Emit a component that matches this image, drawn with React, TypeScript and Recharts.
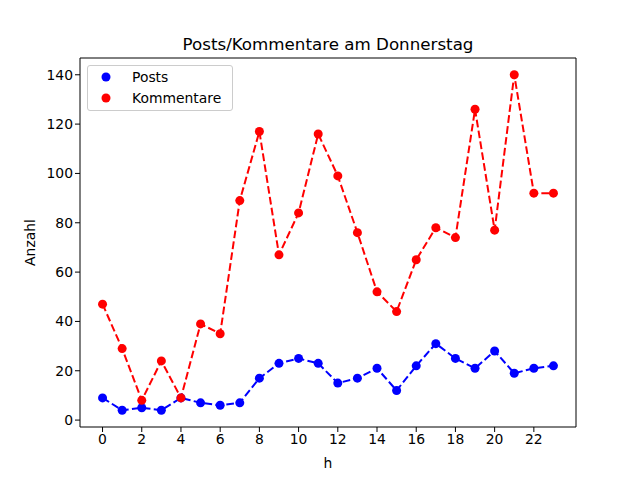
import React from "react";
import {
  LineChart,
  Line,
  XAxis,
  YAxis,
  ReferenceArea,
} from "recharts";

const hours = [0, 1, 2, 3, 4, 5, 6, 7, 8, 9, 10, 11, 12, 13, 14, 15, 16, 17, 18, 19, 20, 21, 22, 23];
const posts = [9, 4, 5, 4, 9, 7, 6, 7, 17, 23, 25, 23, 15, 17, 21, 12, 22, 31, 25, 21, 28, 19, 21, 22];
const kommentare = [47, 29, 8, 24, 9, 39, 35, 89, 117, 67, 84, 116, 99, 76, 52, 44, 65, 78, 74, 126, 77, 140, 92, 92];
const xTicks = [0, 2, 4, 6, 8, 10, 12, 14, 16, 18, 20, 22];
const yTicks = [0, 20, 40, 60, 80, 100, 120, 140];

const data = hours.map((h, i) => ({ h, posts: posts[i], kommentare: kommentare[i] }));

const FONT = "DejaVu Sans, sans-serif";
const X_DOMAIN: [number, number] = [-1.15, 24.15];
const Y_DOMAIN: [number, number] = [-2.8, 146.8];

function LegendBox() {
  const items = [
    { label: "Posts", color: "#0000ff" },
    { label: "Kommentare", color: "#ff0000" },
  ];
  return (
    <div
      style={{
        position: "absolute",
        left: 87,
        top: 65,
        width: 138,
        border: "1px solid #cccccc",
        borderRadius: 3,
        background: "rgba(255,255,255,0.8)",
        padding: "0 0 1px 6px",
        fontFamily: FONT,
        fontSize: 13.9,
        color: "#000",
      }}
    >
      {items.map((it) => (
        <div key={it.label} style={{ display: "flex", alignItems: "center", height: 21.5 }}>
          <svg width={24} height={12} style={{ marginRight: 14 }}>
            <circle cx={12} cy={6} r={4.5} fill={it.color} />
          </svg>
          <span>{it.label}</span>
        </div>
      ))}
    </div>
  );
}

export default function App() {
  return (
    <div style={{ position: "absolute", left: 0, top: 0, width: 640, height: 480, background: "#fff" }}>
      <div
        style={{
          position: "absolute",
          left: 80,
          width: 496,
          top: 34,
          textAlign: "center",
          fontFamily: FONT,
          fontSize: 16.7,
          color: "#000",
        }}
      >
        Posts/Kommentare am Donnerstag
      </div>
      <LineChart
        width={640}
        height={480}
        data={data}
        margin={{ top: 58, right: 64, bottom: 23, left: 20 }}
      >
        <XAxis
          dataKey="h"
          type="number"
          domain={X_DOMAIN}
          ticks={xTicks}
          interval={0}
          height={30}
          axisLine={false}
          tickLine={{ stroke: "#000" }}
          tickSize={5}
          tick={{ fill: "#000", fontSize: 13.9, fontFamily: FONT }}
          label={{ value: "h", position: "insideBottom", offset: -11, fill: "#000", fontSize: 13.9, fontFamily: FONT }}
        />
        <YAxis
          type="number"
          domain={Y_DOMAIN}
          ticks={yTicks}
          interval={0}
          width={60}
          axisLine={false}
          tickLine={{ stroke: "#000" }}
          tickSize={5}
          tick={{ fill: "#000", fontSize: 13.9, fontFamily: FONT }}
          label={{
            value: "Anzahl",
            angle: -90,
            position: "insideLeft",
            offset: 10,
            style: { textAnchor: "middle" },
            fill: "#000",
            fontSize: 13.9,
            fontFamily: FONT,
          }}
        />
        <ReferenceArea
          x1={X_DOMAIN[0]}
          x2={X_DOMAIN[1]}
          y1={Y_DOMAIN[0]}
          y2={Y_DOMAIN[1]}
          fill="none"
          fillOpacity={0}
          stroke="#000"
          strokeWidth={1}
        />
        <Line
          dataKey="posts"
          stroke="#0000ff"
          strokeWidth={2}
          strokeDasharray="7.7 3.3"
          dot={{ r: 4.5, fill: "#0000ff", stroke: "none" }}
          activeDot={false}
          isAnimationActive={false}
        />
        <Line
          dataKey="kommentare"
          stroke="#ff0000"
          strokeWidth={2}
          strokeDasharray="7.7 3.3"
          dot={{ r: 4.5, fill: "#ff0000", stroke: "none" }}
          activeDot={false}
          isAnimationActive={false}
        />
      </LineChart>
      <LegendBox />
    </div>
  );
}
